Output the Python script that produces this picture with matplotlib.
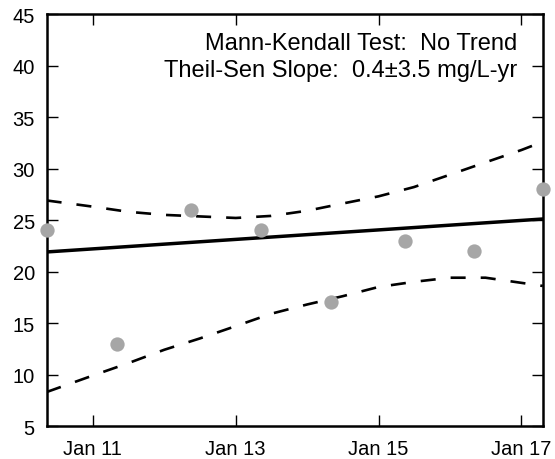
import pandas as pd
import matplotlib
matplotlib.use("Agg")
import matplotlib.pyplot as plt
import matplotlib.dates as mdates

plt.rcParams["font.family"] = ["Liberation Sans", "DejaVu Sans"]

# annual samples
sample_dates = ["2010-05-10", "2011-05-05", "2012-05-15", "2013-05-08",
                "2014-05-05", "2015-05-15", "2016-05-05", "2017-04-20"]
sample_values = [24, 13, 26, 24, 17, 23, 22, 28]

# Theil-Sen trend line end values
trend_values = [21.9, 25.1]

# confidence band
band_dates = ["2010-05-10", "2011-01-01", "2011-07-01", "2012-01-01",
              "2012-07-01", "2013-01-01", "2013-07-01", "2014-01-01",
              "2014-07-01", "2015-01-01", "2015-07-01", "2016-01-01",
              "2016-07-01", "2017-01-01", "2017-04-20"]
band_upper = [26.9, 26.3, 25.8, 25.5, 25.35, 25.2, 25.4, 25.9,
              26.6, 27.3, 28.2, 29.4, 30.6, 31.8, 32.6]
band_lower = [8.3, 9.9, 11.1, 12.4, 13.5, 14.7, 15.9, 16.8,
              17.6, 18.5, 19.0, 19.4, 19.4, 18.9, 18.6]

tick_dates = ["2011-01-01", "2013-01-01", "2015-01-01", "2017-01-01"]
y_ticks = [5, 10, 15, 20, 25, 30, 35, 40, 45]

annotation = ["Mann-Kendall Test:  No Trend",
              "Theil-Sen Slope:  0.4\u00b13.5 mg/L-yr"]


def draw():
    x = pd.to_datetime(sample_dates)
    bx = pd.to_datetime(band_dates)

    fig = plt.figure(figsize=(5.55, 4.6), dpi=100)
    ax = fig.add_axes([0.084, 0.0717, 0.894, 0.8956])

    ax.plot(bx, band_upper, color="black", lw=1.9, dashes=(5.7, 5.7))
    ax.plot(bx, band_lower, color="black", lw=1.9, dashes=(5.7, 5.7))
    ax.plot([x[0], x[-1]], trend_values, color="black", lw=2.5)
    ax.plot(x, sample_values, "o", color="#a6a6a6", ms=10.3, mec="none",
            clip_on=False, zorder=3)

    ax.set_xlim(x[0], x[-1])
    ax.set_ylim(5, 45)
    ax.set_yticks(y_ticks)
    ax.set_xticks(pd.to_datetime(tick_dates))
    ax.xaxis.set_major_formatter(mdates.DateFormatter("%b %y"))

    ax.tick_params(direction="in", length=8, width=1, labelsize=14.5,
                   top=True, right=True)
    ax.tick_params(axis="x", pad=9)
    ax.tick_params(axis="y", pad=8.5)
    for s in ax.spines.values():
        s.set_linewidth(1.8)

    ax.text(0.9476, 0.915, annotation[0], transform=ax.transAxes,
            ha="right", va="baseline", fontsize=17)
    ax.text(0.9476, 0.8495, annotation[1], transform=ax.transAxes,
            ha="right", va="baseline", fontsize=17)

    fig.savefig("out.png", dpi=100)


if __name__ == "__main__":
    draw()
